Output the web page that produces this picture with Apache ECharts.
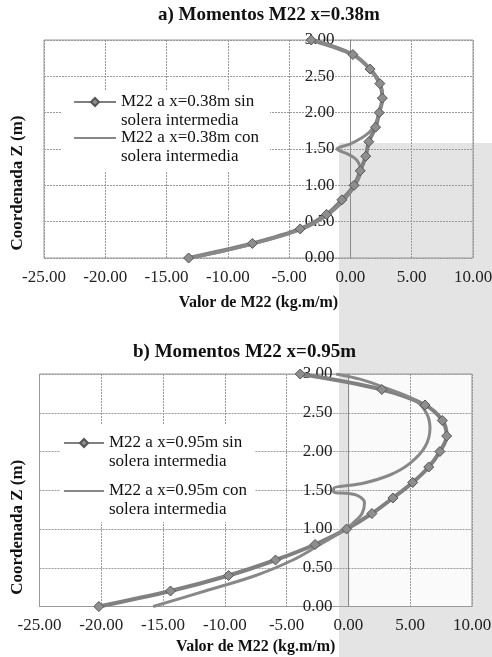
<!DOCTYPE html>
<html>
<head>
<meta charset="utf-8">
<script src="https://cdn.jsdelivr.net/npm/echarts@6/dist/echarts.min.js"></script>
<style>
  html, body { margin: 0; padding: 0; background: #fff; }
  #main { width: 492px; height: 657px; }
</style>
</head>
<body>
<div id="main"></div>
<script>
// alturas z (m) donde van los rombos
const zSin = [0, 0.2, 0.4, 0.6, 0.8, 1.0, 1.2, 1.4, 1.6, 1.8, 2.0, 2.2, 2.4, 2.6, 2.8, 3.0];

// a) x=0.38m
const m22aSin = [-13.2, -8.0, -4.1, -1.95, -0.7, 0.3, 0.8, 1.25, 1.5, 2.05, 2.35, 2.6, 2.4, 1.6, 0.2, -3.2];
const zConA = [0, 0.2, 0.4, 0.6, 0.8, 1.0, 1.2, 1.35, 1.43, 1.5, 1.57, 1.65, 1.74, 1.87, 2.0, 2.2, 2.4, 2.6, 2.8, 3.0];
const m22aCon = [-13.0, -7.8, -3.9, -1.8, -0.5, 0.4, 0.85, 0.5, -0.2, -1.1, 0, 0.9, 1.6, 2.1, 2.35, 2.6, 2.4, 1.6, 0.2, -3.0];

// b) x=0.95m
const m22bSin = [-20.2, -14.4, -9.7, -5.9, -2.7, -0.15, 1.9, 3.6, 5.2, 6.5, 7.4, 7.95, 7.6, 6.2, 2.7, -3.9];
const zConB = [0, 0.2, 0.4, 0.6, 0.78, 0.99, 1.08, 1.2, 1.34, 1.44, 1.48, 1.52, 1.59, 1.7, 1.85, 2.06, 2.3, 2.5, 2.67, 2.82, 2.93, 3.0];
const m22bCon = [-15.8, -11.6, -7.5, -4.5, -2.5, -0.3, 0.4, 1.1, 1.3, 0.6, -1.2, -1.2, 1.2, 3.4, 5.0, 6.2, 6.6, 6.3, 5.3, 3.0, 1.0, -1.0];

const titles = ['a) Momentos M22 x=0.38m', 'b) Momentos M22 x=0.95m'];
const namesA = ['M22 a x=0.38m sin\nsolera intermedia', 'M22 a x=0.38m con\nsolera intermedia'];
const namesB = ['M22 a x=0.95m sin\nsolera intermedia', 'M22 a x=0.95m con\nsolera intermedia'];

const xMin = -25, xMax = 10;
const serif = '"Liberation Serif", "DejaVu Serif", serif';
const pair = (xs, zs) => xs.map((v, i) => [v, zs[i]]);

const grids = [
    { left: 44, top: 40, width: 429, height: 218 },
    { left: 39.5, top: 374, width: 432.5, height: 232.5 }
];

function xAx(gridIndex, nameGap) {
    return {
        type: 'value', gridIndex, min: xMin, max: xMax, interval: 5,
        name: 'Valor de M22 (kg.m/m)', nameLocation: 'middle', nameGap,
        nameTextStyle: { fontFamily: serif, fontWeight: 'bold', fontSize: 16, color: '#111' },
        axisLine: { show: false, onZero: false }, axisTick: { show: false },
        axisLabel: { fontFamily: serif, fontSize: 17, color: '#222', margin: 11, formatter: v => v.toFixed(2) },
        splitLine: { show: true, lineStyle: { color: '#9a9a9a', type: [2, 1] } }
    };
}

// el eje Z se dibuja sobre x=0 (desplazado desde el borde izquierdo)
function yAx(gridIndex, nameGap, padR) {
    const w = grids[gridIndex].width;
    return {
        type: 'value', gridIndex, min: 0, max: 3, interval: 0.5,
        offset: -(0 - xMin) / (xMax - xMin) * w,
        name: 'Coordenada Z (m)', nameLocation: 'middle', nameGap,
        nameTextStyle: { fontFamily: serif, fontWeight: 'bold', fontSize: 17, color: '#111', padding: [0, padR, 0, 0] },
        axisLine: { show: true, onZero: false, lineStyle: { color: '#8a8a8a' } },
        axisTick: { show: false },
        axisLabel: { fontFamily: serif, fontSize: 17, color: '#222', margin: 16, formatter: v => v.toFixed(2) },
        splitLine: { show: true, lineStyle: { color: '#9a9a9a', type: [2, 1] } }
    };
}

// la línea en blanco inicial deja el icono a la altura de la primera línea del texto
function legendFor(names, left, top, gap, iw) {
    return {
        data: [
            { name: names[0] },
            { name: names[1], itemStyle: { opacity: 0, color: 'transparent', borderWidth: 0 } }
        ],
        orient: 'vertical', left, top, itemGap: gap,
        itemWidth: iw, itemHeight: 10, padding: 0,
        formatter: n => ' \n' + n,
        textStyle: { fontFamily: serif, fontSize: 17, color: '#111', lineHeight: 19 }
    };
}

const sinStyle = (name, xi, data) => ({
    name, type: 'line', xAxisIndex: xi, yAxisIndex: xi, data,
    smooth: 0.35, symbol: 'diamond', symbolSize: 10,
    lineStyle: { color: '#808080', width: 4 },
    itemStyle: { color: '#8e8e8e', borderColor: '#555', borderWidth: 1 }
});
const conStyle = (name, xi, data) => ({
    name, type: 'line', xAxisIndex: xi, yAxisIndex: xi, data,
    smooth: 0.35, symbol: 'none',
    lineStyle: { color: '#888', width: 3 },
    itemStyle: { color: '#888' }
});

const chart = echarts.init(document.getElementById('main'));

const option = {
    animation: false,
    backgroundColor: '#fff',
    title: [
        { text: titles[0], left: 158, top: 6, padding: 0, textStyle: { fontFamily: serif, fontWeight: 'bold', fontSize: 19, color: '#111' } },
        { text: titles[1], left: 133, top: 343, padding: 0, textStyle: { fontFamily: serif, fontWeight: 'bold', fontSize: 19, color: '#111' } }
    ],
    graphic: [
        // marca de agua gris de fondo
        { type: 'rect', z: -10, shape: { x: 339, y: 143, width: 153, height: 514 }, style: { fill: '#e4e4e4' } },
        { type: 'rect', z: -9, shape: { x: 349.5, y: 374, width: 122, height: 232.5 }, style: { fill: '#fafafa' } },
        // fondo blanco de las leyendas
        { type: 'rect', z: 3, shape: { x: 62, y: 90, width: 208, height: 82 }, style: { fill: '#fff' } },
        { type: 'rect', z: 3, shape: { x: 60, y: 425, width: 195, height: 97 }, style: { fill: '#fff' } }
    ],
    grid: [
        Object.assign({ show: true, borderColor: '#999', backgroundColor: 'transparent', containLabel: false, outerBoundsMode: 'none' }, grids[0]),
        Object.assign({ show: true, borderColor: '#999', backgroundColor: 'transparent', containLabel: false, outerBoundsMode: 'none' }, grids[1])
    ],
    xAxis: [xAx(0, 37), xAx(1, 32)],
    yAxis: [yAx(0, 324, 68), yAx(1, 322, 74)],
    legend: [
        legendFor(namesA, 73, 73.5, -21, 42),
        legendFor(namesB, 63, 414.5, -9, 40)
    ],
    series: [
        sinStyle(namesA[0], 0, pair(m22aSin, zSin)),
        conStyle(namesA[1], 0, pair(m22aCon, zConA)),
        sinStyle(namesB[0], 1, pair(m22bSin, zSin)),
        conStyle(namesB[1], 1, pair(m22bCon, zConB))
    ]
};

chart.setOption(option);
</script>
</body>
</html>
